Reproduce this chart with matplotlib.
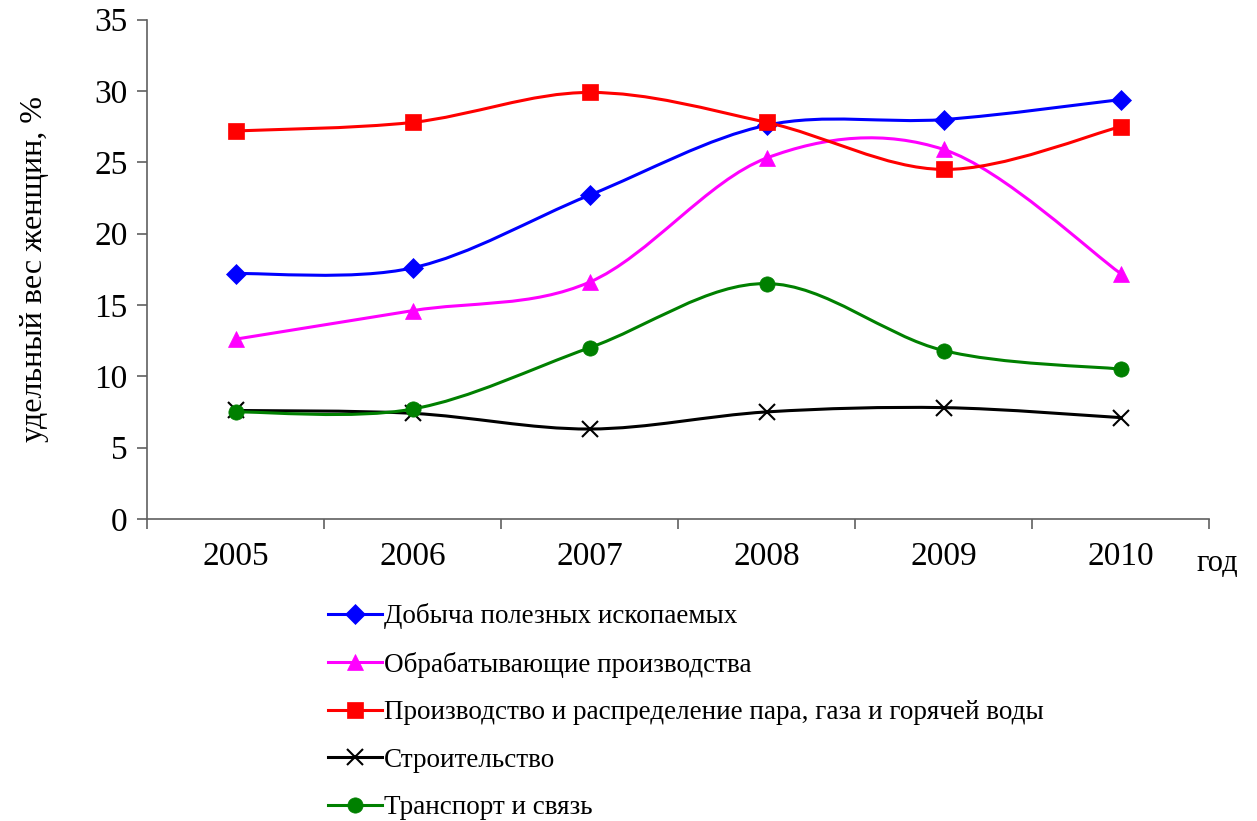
import matplotlib
matplotlib.use("Agg")
import matplotlib.pyplot as plt
from matplotlib.path import Path
from matplotlib.patches import PathPatch
from matplotlib.lines import Line2D

years = ["2005", "2006", "2007", "2008", "2009", "2010"]
dobycha = [17.2, 17.6, 22.7, 27.6, 28.0, 29.4]
obrabat = [12.6, 14.6, 16.6, 25.3, 25.9, 17.2]
energo = [27.2, 27.8, 29.9, 27.8, 24.5, 27.5]
stroit = [7.6, 7.4, 6.3, 7.5, 7.8, 7.1]
transport = [7.5, 7.7, 12.0, 16.5, 11.8, 10.5]

series = [
    ("Добыча полезных ископаемых", dobycha, "#0000ff", "D", 10),
    ("Обрабатывающие производства", obrabat, "#ff00ff", "^", 11),
    ("Производство и распределение пара, газа и горячей воды", energo, "#ff0000", "s", 11),
    ("Строительство", stroit, "#000000", "x", 11),
    ("Транспорт и связь", transport, "#008000", "o", 11),
]

plt.rcParams["font.family"] = ["Liberation Serif", "DejaVu Serif"]
AXC = "#606060"


def smooth_path(xs, ys):
    # сглаживание в духе Excel (Catmull-Rom -> Bezier)
    n = len(xs)
    verts = [(xs[0], ys[0])]
    codes = [Path.MOVETO]
    for i in range(n - 1):
        a = i - 1 if i > 0 else i
        d = i + 2 if i + 2 < n else i + 1
        c1 = (xs[i] + (xs[i + 1] - xs[a]) / 6, ys[i] + (ys[i + 1] - ys[a]) / 6)
        c2 = (xs[i + 1] - (xs[d] - xs[i]) / 6, ys[i + 1] - (ys[d] - ys[i]) / 6)
        verts += [c1, c2, (xs[i + 1], ys[i + 1])]
        codes += [Path.CURVE4] * 3
    return Path(verts, codes)


fig = plt.figure(figsize=(12.57, 8.21), dpi=100)
ax = fig.add_axes([0.117, 0.368, 0.845, 0.608])

x = list(range(len(years)))
handles = []
for i, (name, vals, color, mk, ms) in enumerate(series):
    ax.add_patch(PathPatch(smooth_path(x, vals), facecolor="none",
                           edgecolor=color, lw=2.2, zorder=2 + i))
    ax.plot(x, vals, ls="none", marker=mk, ms=ms, color=color,
            mew=1.5 if mk == "x" else 0.5, zorder=2 + i)
    handles.append(Line2D([], [], color=color, lw=2.2, marker=mk, ms=ms,
                          mew=1.5 if mk == "x" else 0.5))

ax.set_xlim(-0.5, len(years) - 0.5)
ax.set_ylim(0, 35)
ax.set_yticks(range(0, 36, 5))
ax.set_xticks(x)
ax.set_xticklabels(years)
ax.set_xticks([v - 0.5 for v in range(len(years) + 1)], minor=True)
ax.tick_params(axis="x", which="major", length=0, pad=16, labelsize=24)
ax.tick_params(axis="x", which="minor", length=7, width=1.2, color=AXC, direction="out")
ax.tick_params(axis="y", length=7, width=1.2, color=AXC, pad=7, labelsize=24)
for s in ("top", "right"):
    ax.spines[s].set_visible(False)
for s in ("left", "bottom"):
    ax.spines[s].set_color(AXC)
    ax.spines[s].set_linewidth(1.2)

ax.set_ylabel("удельный вес женщин, %", fontsize=23)
ax.yaxis.set_label_coords(-0.092, 0.5)
fig.text(0.952, 0.314, "год", fontsize=22, ha="left", va="center")

fig.legend(handles, [s[0] for s in series], loc="upper left",
           bbox_to_anchor=(0.261, 0.265), frameon=False, fontsize=19.5,
           handlelength=2.0, handletextpad=0.05, labelspacing=0.83,
           borderaxespad=0, borderpad=0)

fig.savefig("out.png", dpi=100)
